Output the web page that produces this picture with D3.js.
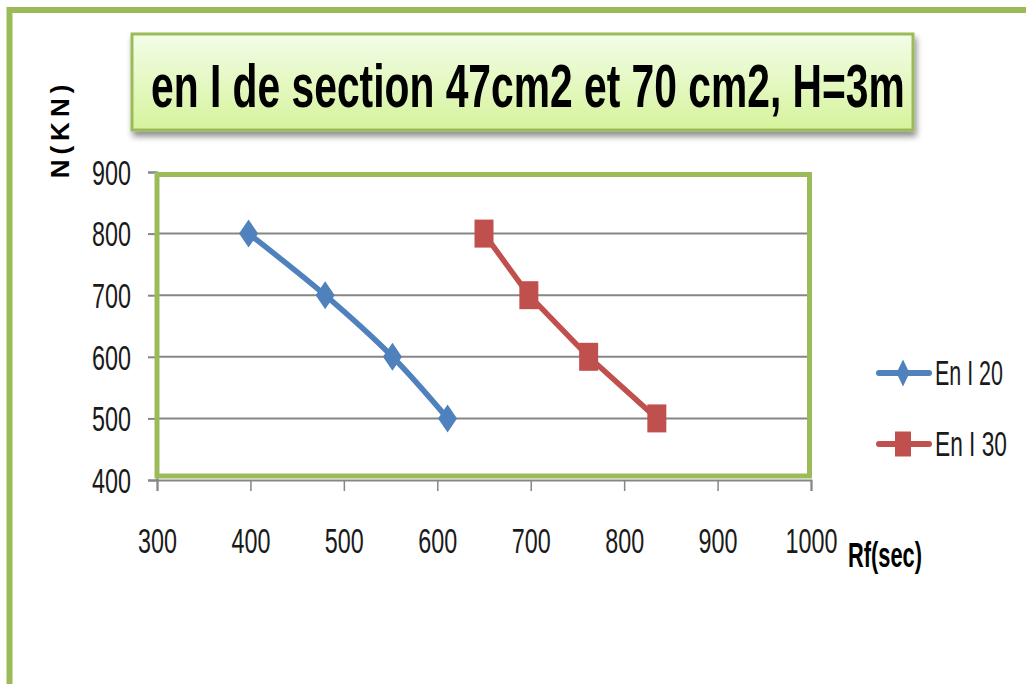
<!DOCTYPE html>
<html>
<head>
<meta charset="utf-8">
<script src="https://cdn.jsdelivr.net/npm/d3@7"></script>
<style>
  html, body { margin: 0; padding: 0; background: #fff; }
  svg { display: block; }
  text { font-family: "Liberation Sans Narrow", "Arial Narrow", "Liberation Sans", Arial, sans-serif; }
</style>
</head>
<body>
<svg id="chart" width="1026" height="684"></svg>
<script>
// ---- data ----
const titleText = "en I de section 47cm2 et 70 cm2, H=3m";
const xLabel = "Rf(sec)";
const yLabel = "N(KN)";
const seriesNames = ["En I 20", "En I 30"];
const seriesColors = ["#4f81bd", "#c0504d"];
const i20_x = [398, 480, 552, 611];
const i20_y = [800, 700, 600, 500];
const i30_x = [650, 698, 762, 835];
const i30_y = [800, 700, 600, 500];
const xTicks = [300, 400, 500, 600, 700, 800, 900, 1000];
const yTicks = [400, 500, 600, 700, 800, 900];

const green = "#9bbb59";
const grey = "#868686";

const svg = d3.select("#chart");
svg.append("rect").attr("width", 1026).attr("height", 684).attr("fill", "#fff");

// squeeze a text horizontally so that it is exactly `w` px wide, anchored at (tx, ty)
function fit(sel, w, tx, ty) {
  sel.each(function(d) {
    const t = d3.select(this);
    t.attr("x", 0).attr("y", 0);
    const nat = this.getComputedTextLength();
    const target = typeof w === "function" ? w(d) : w;
    const s = nat > 0 ? target / nat : 1;
    const X = typeof tx === "function" ? tx(d) : tx;
    const Y = typeof ty === "function" ? ty(d) : ty;
    t.attr("transform", `translate(${X},${Y}) scale(${s},1)`);
  });
}

// defs
const defs = svg.append("defs");
const grad = defs.append("linearGradient").attr("id", "tg").attr("x1", 0).attr("y1", 0).attr("x2", 0).attr("y2", 1);
grad.append("stop").attr("offset", "0%").attr("stop-color", "#f3fde8");
grad.append("stop").attr("offset", "100%").attr("stop-color", "#d6f39c");
const filt = defs.append("filter").attr("id", "sh").attr("x", "-10%").attr("y", "-20%").attr("width", "130%").attr("height", "160%");
filt.append("feGaussianBlur").attr("in", "SourceAlpha").attr("stdDeviation", 3);
filt.append("feOffset").attr("dx", 2).attr("dy", 5).attr("result", "ob");
filt.append("feComponentTransfer").append("feFuncA").attr("type", "linear").attr("slope", 0.45);
const fm = filt.append("feMerge");
fm.append("feMergeNode");
fm.append("feMergeNode").attr("in", "SourceGraphic");

// outer frame (top + left)
svg.append("path").attr("d", "M9.5,684 V10 H1026").attr("fill", "none")
  .attr("stroke", green).attr("stroke-width", 6);

// title box
svg.append("rect").attr("x", 132).attr("y", 34).attr("width", 781).attr("height", 96)
  .attr("fill", "url(#tg)").attr("stroke", green).attr("stroke-width", 3)
  .attr("filter", "url(#sh)");
svg.append("text")
  .attr("font-size", 62).attr("font-weight", "bold").attr("fill", "#000")
  .text(titleText)
  .call(fit, 754, 151, 106.5);

// scales
const x = d3.scaleLinear().domain([300, 1000]).range([157, 811]);
const y = d3.scaleLinear().domain([400, 900]).range([480, 172]);

// gridlines
svg.append("g").selectAll("line").data(yTicks.filter(v => v > 400 && v < 900)).join("line")
  .attr("x1", x(300)).attr("x2", x(1000)).attr("y1", d => y(d)).attr("y2", d => y(d))
  .attr("stroke", grey).attr("stroke-width", 2);

// y axis
const gy = svg.append("g").attr("transform", `translate(${x(300)},0)`)
  .call(d3.axisLeft(y).tickValues(yTicks).tickSize(9).tickPadding(17).tickFormat(d3.format("d")));
gy.select(".domain").attr("stroke", grey).attr("stroke-width", 2);
gy.selectAll(".tick line").attr("stroke", grey).attr("stroke-width", 2);
gy.selectAll(".tick text").attr("font-size", 35).attr("fill", "#1a1a1a")
  .attr("font-family", null).attr("dy", "0.35em")
  .call(fit, d => String(d).length * 13, -26, 0);

// x axis
const gx = svg.append("g").attr("transform", `translate(0,${y(400)})`)
  .call(d3.axisBottom(x).tickValues(xTicks).tickSize(11).tickFormat(d3.format("d")));
gx.select(".domain").attr("stroke", grey).attr("stroke-width", 2);
gx.selectAll(".tick line").attr("stroke", grey).attr("stroke-width", 1.5);
gx.selectAll(".tick text").attr("font-size", 35).attr("fill", "#1a1a1a")
  .attr("font-family", null).attr("dy", 0)
  .call(fit, d => String(d).length * 13, 0, 73);

// plot area green border
svg.append("rect").attr("x", 157).attr("y", 174.5).attr("width", 652.5).attr("height", 301.5)
  .attr("fill", "none").attr("stroke", green).attr("stroke-width", 5);

// axis titles
svg.append("text").attr("transform", "translate(69,129) rotate(-90)")
  .attr("text-anchor", "middle").attr("font-size", 26).attr("font-weight", "bold")
  .attr("font-family", "'Liberation Sans', Arial, sans-serif")
  .attr("letter-spacing", 5)
  .text(yLabel);
svg.append("text")
  .attr("font-size", 35).attr("font-weight", "bold").attr("fill", "#000")
  .text(xLabel)
  .call(fit, 74, 848, 567);

// series
const lineSmooth = d3.line().x(d => x(d[0])).y(d => y(d[1])).curve(d3.curveCatmullRom.alpha(0.5));
const lineStraight = d3.line().x(d => x(d[0])).y(d => y(d[1]));
const s1 = i20_x.map((v, i) => [v, i20_y[i]]);
const s2 = i30_x.map((v, i) => [v, i30_y[i]]);

const diamond = (w, h) => `M0,${-h/2} L${w/2},0 L0,${h/2} L${-w/2},0 Z`;
const square = (w, h) => `M${-w/2},${-h/2} H${w/2} V${h/2} H${-w/2} Z`;

svg.append("path").datum(s1).attr("d", lineSmooth).attr("fill", "none")
  .attr("stroke", seriesColors[0]).attr("stroke-width", 5.5).attr("stroke-linejoin", "round");
svg.append("g").selectAll("path").data(s1).join("path")
  .attr("transform", d => `translate(${x(d[0])},${y(d[1])})`)
  .attr("d", diamond(19, 28)).attr("fill", seriesColors[0]);

svg.append("path").datum(s2).attr("d", lineStraight).attr("fill", "none")
  .attr("stroke", seriesColors[1]).attr("stroke-width", 5.5).attr("stroke-linejoin", "round");
svg.append("g").selectAll("path").data(s2).join("path")
  .attr("transform", d => `translate(${x(d[0])},${y(d[1])})`)
  .attr("d", square(19, 28)).attr("fill", seriesColors[1]);

// legend
const legY = [373, 444];
const legW = [68, 72];
seriesNames.forEach((name, i) => {
  const g = svg.append("g");
  g.append("line").attr("x1", 879).attr("x2", 929).attr("y1", legY[i]).attr("y2", legY[i])
    .attr("stroke", seriesColors[i]).attr("stroke-width", 6).attr("stroke-linecap", "round");
  g.append("path").attr("transform", `translate(903,${legY[i]})`)
    .attr("d", i === 0 ? diamond(13, 27) : square(16, 25)).attr("fill", seriesColors[i]);
  g.append("text")
    .attr("font-size", 35).attr("fill", "#1a1a1a")
    .text(name)
    .call(fit, legW[i], 935, legY[i] + 12);
});
</script>
</body>
</html>
